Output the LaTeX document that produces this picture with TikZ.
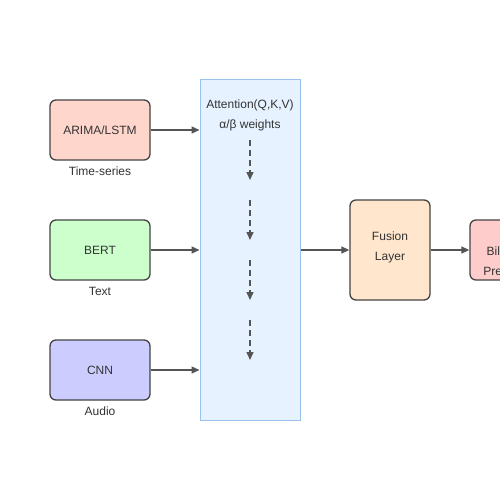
\documentclass[tikz,border=0pt]{standalone}
\usepackage{fontspec}
\setmainfont{Liberation Sans}
\usepackage{tikz}
\usetikzlibrary{arrows.meta,positioning}
\definecolor{txtgray}{HTML}{333333}
\definecolor{edgegray}{HTML}{444444}
\definecolor{arrgray}{HTML}{555555}
\definecolor{tsfill}{HTML}{FFD6CC}
\definecolor{txfill}{HTML}{CCFFCC}
\definecolor{aufill}{HTML}{CCCCFF}
\definecolor{attfill}{HTML}{E6F2FF}
\definecolor{attedge}{HTML}{99C2EE}
\definecolor{fusfill}{HTML}{FFE6CC}
\definecolor{outfill}{HTML}{FFCCCC}
\tikzset{>={Triangle[length=8pt,width=7pt]},
  box/.style={draw=edgegray,line width=1.3pt,rounded corners=6pt,inner sep=0pt,
    minimum width=100pt,minimum height=60pt,text=txtgray,align=center},
  sub/.style={text=txtgray,inner sep=0pt},
  flow/.style={->,draw=arrgray,line width=1.5pt},
  dasharrow/.style={->,draw=arrgray,line width=1.5pt,dash pattern=on 6pt off 4pt}}

\begin{document}
\begin{tikzpicture}[x=1pt,y=-1pt,font=\fontsize{12}{20}\selectfont]
\useasboundingbox (0,0) rectangle (500,500);
\fill[white] (0,0) rectangle (500,500);

%Attention panel
\node [draw=attedge,fill=attfill,line width=1pt,minimum width=100pt,minimum height=340pt,inner sep=0pt] (att) at (250,250) {};
\node [sub,align=center] (atttxt) at (250,115) {Attention(Q,K,V)\\α/β weights};
\foreach \y in {140,200,260,320}
  {\coordinate (d\y) at (250,\y);
   \draw [dasharrow] (d\y) -- ++(0,40);}

%Encoders
\node [box,fill=tsfill] (arima) at (100,130) {ARIMA/LSTM};
\node [sub,below=6pt of arima] (arimalbl) {Time-series};
\node [box,fill=txfill] (bert) at (100,250) {BERT};
\node [sub,below=6pt of bert] (bertlbl) {Text};
\node [box,fill=aufill] (cnn) at (100,370) {CNN};
\node [sub,below=6pt of cnn] (cnnlbl) {Audio};

\draw [flow] (arima) -- (arima -| att.west);
\draw [flow] (bert) -- (bert -| att.west);
\draw [flow] (cnn) -- (cnn -| att.west);

%Fusion and output
\node [box,fill=fusfill,minimum width=80pt,minimum height=100pt] (fusion) at (390,250) {};
\node [sub,align=center] (fustxt) at ([yshift=3pt]fusion.center) {Fusion\\Layer};
\node [box,fill=outfill,minimum width=80pt] (out) at (510,250) {};
\node [sub,align=center] (outtxt) at ([yshift=-11pt]out.center) {Billboard\\Prediction};

\draw [flow] (att.east |- fusion) -- (fusion);
\draw [flow] (fusion) -- (out);

\end{tikzpicture}
\end{document}
